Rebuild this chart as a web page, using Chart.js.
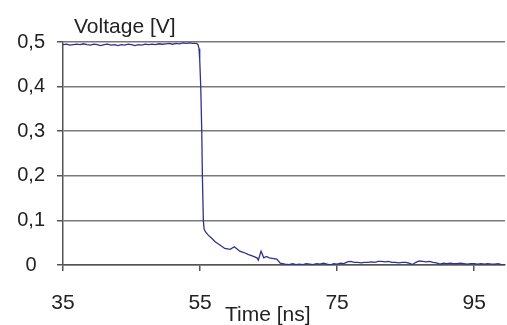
<!DOCTYPE html>
<html>
<head>
<meta charset="utf-8">
<script src="https://cdn.jsdelivr.net/npm/chart.js@4"></script>
<style>
    html, body { margin: 0; padding: 0; background: #fff; }
    #chart { display: block; }
</style>
</head>
<body>
<canvas id="chart" width="507" height="325"></canvas>
<script>
// data
const timeNs = [
    35, 35.5, 36, 36.5, 37, 37.5, 38, 38.5, 39, 39.5,
    40, 40.5, 41, 41.5, 42, 42.5, 43, 43.5, 44, 44.5,
    45, 45.5, 46, 46.5, 47, 47.5, 48, 48.5, 49, 49.5,
    50, 50.5, 51, 51.5, 52, 52.5, 53, 53.5, 54, 54.5,
    54.7, 54.85, 54.95, 55.1, 55.25, 55.34, 55.48, 55.6, 55.8, 56.2,
    56.7, 57.2, 57.9, 58.6, 59.4, 60, 60.4, 60.8, 61.4, 62,
    62.7, 63.3, 63.5, 63.9, 64.3, 64.7, 65.1, 65.5, 66.2, 66.7,
    67.4, 68, 68.5, 69, 69.5, 70, 70.5, 71, 71.5, 72,
    72.5, 73, 73.5, 74, 74.5, 75, 75.5, 76, 76.5, 77,
    77.5, 78, 78.5, 79, 79.5, 80, 80.5, 81, 81.5, 82,
    82.5, 83, 83.5, 84, 84.5, 85, 85.5, 86, 86.5, 87,
    87.5, 88, 88.5, 89, 89.5, 90, 90.5, 91, 91.5, 92,
    92.5, 93, 93.5, 94, 94.5, 95, 95.5, 96, 96.5, 97,
    97.5, 98, 98.5, 99, 99.5
];
const voltage = [
    0.494, 0.495, 0.493, 0.494, 0.495, 0.494, 0.496, 0.494, 0.493, 0.495,
    0.494, 0.492, 0.494, 0.495, 0.493, 0.494, 0.492, 0.494, 0.493, 0.495,
    0.494, 0.492, 0.494, 0.493, 0.495, 0.494, 0.495, 0.494, 0.496, 0.495,
    0.496, 0.497, 0.495, 0.497, 0.496, 0.498, 0.497, 0.498, 0.497, 0.497,
    0.494, 0.485, 0.46, 0.40, 0.30, 0.20, 0.10, 0.08, 0.074, 0.067,
    0.06, 0.052, 0.045, 0.037, 0.035, 0.041, 0.036, 0.031, 0.028, 0.024,
    0.02, 0.016, 0.011, 0.031, 0.016, 0.019, 0.016, 0.015, 0.013, 0.004,
    0.002, 0.001, 0.003, 0.001, 0.002, 0.001, 0.003, 0.002, 0.001, 0.003,
    0.002, 0.004, 0.002, 0.0, 0.003, 0.002, 0.004, 0.003, 0.007, 0.008,
    0.006, 0.006, 0.005, 0.006, 0.006, 0.007, 0.006, 0.008, 0.008, 0.007,
    0.008, 0.006, 0.006, 0.005, 0.006, 0.006, 0.004, 0.001, 0.006, 0.009,
    0.008, 0.007, 0.008, 0.006, 0.005, 0.002, 0.004, 0.003, 0.004, 0.003,
    0.003, 0.004, 0.003, 0.002, 0.003, 0.003, 0.002, 0.003, 0.002, 0.003,
    0.002, 0.002, 0.003, 0.001, 0.0
];
const xTicks = [35, 55, 75, 95];
const yLabel = 'Voltage [V]';
const xLabel = 'Time [ns]';

document.addEventListener('DOMContentLoaded', function() {
    const ctx = document.getElementById('chart').getContext('2d');
    const font = "'Liberation Sans', Arial, sans-serif";
    const axisColor = '#555';
    const gridColor = '#7a7a7a';

    // axis titles drawn as plain text, placed like the original
    const axisTitles = {
        id: 'axisTitles',
        afterDraw(chart) {
            const c = chart.ctx;
            c.save();
            c.fillStyle = '#222';
            c.textAlign = 'left';
            c.textBaseline = 'alphabetic';
            c.font = '21px ' + font;
            c.fillText(yLabel, 74, 33);
            c.fillText(xLabel, 225, 321);
            c.restore();
        }
    };

    new Chart(ctx, {
        type: 'line',
        data: {
            datasets: [{
                data: timeNs.map((t, i) => ({ x: t, y: voltage[i] })),
                borderColor: '#2e3192',
                borderWidth: 1.3,
                pointRadius: 0,
                tension: 0,
                fill: false
            }]
        },
        options: {
            responsive: false,
            animation: false,
            layout: { padding: { top: 42, right: 2, left: 0, bottom: 0 } },
            plugins: {
                legend: { display: false },
                tooltip: { enabled: false }
            },
            scales: {
                x: {
                    type: 'linear',
                    min: 35,
                    max: 99.5,
                    afterBuildTicks: scale => {
                        scale.ticks = xTicks.map(v => ({ value: v }));
                    },
                    afterFit: scale => { scale.height = 60; },
                    grid: {
                        drawOnChartArea: false,
                        drawTicks: true,
                        tickLength: 6,
                        color: axisColor,
                        lineWidth: 1.5
                    },
                    border: { color: axisColor, width: 1.5 },
                    ticks: {
                        color: '#222',
                        padding: 20,
                        maxRotation: 0,
                        font: { family: font, size: 21 }
                    }
                },
                y: {
                    min: 0,
                    max: 0.5,
                    afterFit: scale => { scale.width = 63; },
                    grid: {
                        color: gridColor,
                        lineWidth: 1.5,
                        tickLength: 6,
                        tickColor: axisColor
                    },
                    border: { color: axisColor, width: 1.5 },
                    ticks: {
                        stepSize: 0.1,
                        color: '#222',
                        padding: 12,
                        crossAlign: 'center',
                        font: { family: font, size: 20 },
                        callback: v => v === 0 ? '0' : v.toFixed(1).replace('.', ',')
                    }
                }
            }
        },
        plugins: [axisTitles]
    });
});
</script>
</body>
</html>
